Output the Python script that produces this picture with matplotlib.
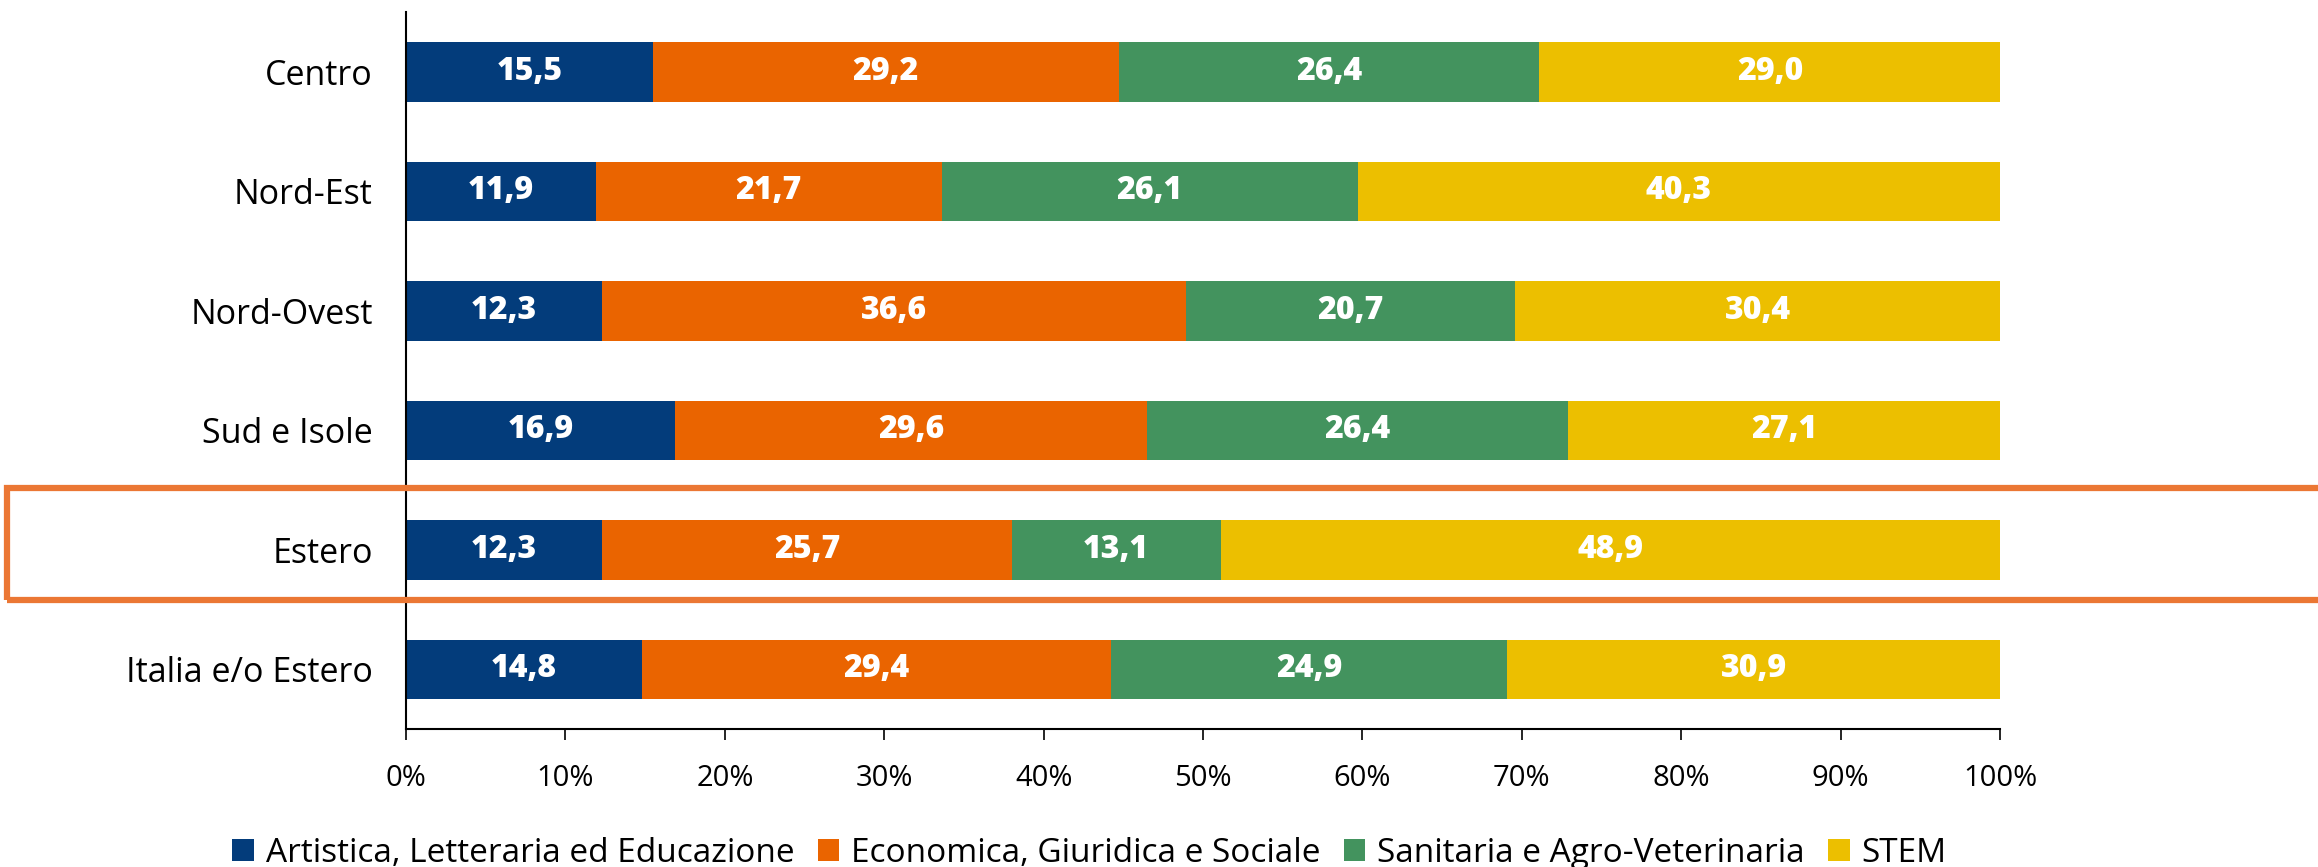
import matplotlib
matplotlib.use("Agg")
import matplotlib.pyplot as plt
from matplotlib.patches import Rectangle
import numpy as np

plt.rcParams['font.family'] = ['Open Sans', 'DejaVu Sans']

categories = ["Centro", "Nord-Est", "Nord-Ovest", "Sud e Isole", "Estero", "Italia e/o Estero"]
series_names = ["Artistica, Letteraria ed Educazione", "Economica, Giuridica e Sociale",
                "Sanitaria e Agro-Veterinaria", "STEM"]
artistica = [15.5, 11.9, 12.3, 16.9, 12.3, 14.8]
economica = [29.2, 21.7, 36.6, 29.6, 25.7, 29.4]
sanitaria = [26.4, 26.1, 20.7, 26.4, 13.1, 24.9]
stem = [29.0, 40.3, 30.4, 27.1, 48.9, 30.9]
colors = ["#033C7B", "#EA6400", "#43935E", "#ECBF00"]
xticks = [0, 10, 20, 30, 40, 50, 60, 70, 80, 90, 100]

fig = plt.figure(figsize=(23.18, 8.67), dpi=100)
ax = fig.add_axes([0.1752, 0.159, 0.6876, 0.827])

y = np.arange(len(categories))
left = np.zeros(len(categories))
for name, vals, c in zip(series_names, [artistica, economica, sanitaria, stem], colors):
    vals = np.array(vals)
    ax.barh(y, vals, left=left, height=0.5, color=c, label=name, linewidth=0)
    for yi, l, v in zip(y, left, vals):
        ax.text(l + v / 2, yi, f"{v:.1f}".replace(".", ","), ha="center", va="center",
                color="white", fontsize=23, fontweight=800)
    left = left + vals

ax.set_xlim(0, 100)
ax.set_ylim(len(categories) - 0.5, -0.5)
ax.set_yticks(y)
ax.set_yticklabels(categories, fontsize=24.5)
ax.set_xticks(xticks)
ax.set_xticklabels([f"{t}%" for t in xticks], fontsize=21)
ax.tick_params(axis="y", length=0, pad=24)
ax.tick_params(axis="x", length=8, width=1.2, direction="out", pad=17)
for s in ["top", "right"]:
    ax.spines[s].set_visible(False)
for s in ["left", "bottom"]:
    ax.spines[s].set_linewidth(1.5)
    ax.spines[s].set_color("black")

handles, labels = ax.get_legend_handles_labels()
fig.legend(handles, labels, loc="center", bbox_to_anchor=(0.47, 0.016), ncol=4,
           frameon=False, fontsize=24, handlelength=0.65, handleheight=0.65,
           handletextpad=0.35, columnspacing=0.7)

rect = Rectangle((0.003, 0.308), 1.1, 0.129, transform=fig.transFigure, fill=False,
                 edgecolor="#EB7734", linewidth=4.5, clip_on=False)
fig.patches.append(rect)

fig.savefig("out.png", dpi=100)
